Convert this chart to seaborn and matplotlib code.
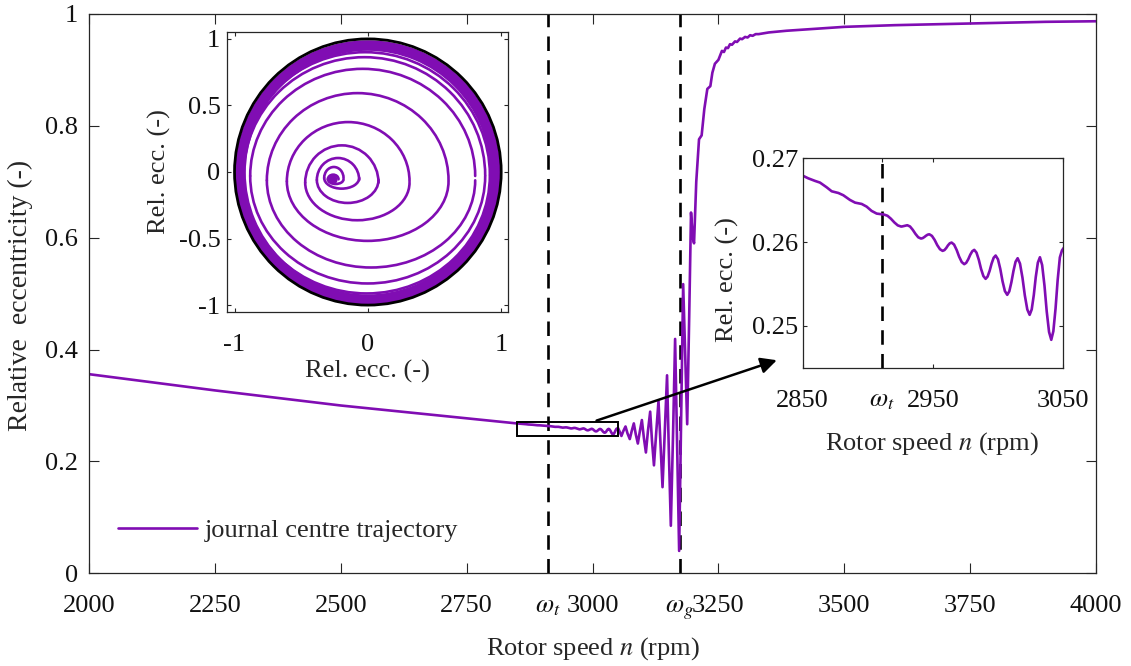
import matplotlib
matplotlib.use("Agg")
import matplotlib.pyplot as plt
import seaborn as sns
from matplotlib.patches import Arc, Ellipse, Circle, Wedge, Rectangle

# ---- run-up record: rotor speed (rpm) vs relative eccentricity ----
speed = [2000, 2250, 2500, 2750,
         2850.0, 2854.3, 2859.5, 2863.3, 2868.4, 2872.3, 2877.4, 2881.2, 2886.3, 2890.2,
         2895.3, 2899.1, 2902.9, 2906.8, 2912.5,
         2915.1, 2917.7, 2920.4, 2923.0, 2925.6,
         2926.5, 2927.5, 2928.4, 2929.4, 2930.3,
         2932.4, 2934.5, 2936.6, 2938.7, 2940.8,
         2942.1, 2943.4, 2944.6, 2945.9, 2947.2,
         2949.2, 2951.3, 2953.3, 2955.4, 2957.4,
         2958.8, 2960.2, 2961.5, 2962.9, 2964.3,
         2966.2, 2968.2, 2970.1, 2972.1, 2974.0,
         2975.5, 2977.1, 2978.6, 2980.2, 2981.7,
         2983.4, 2985.2, 2986.9, 2988.7, 2990.4,
         2991.9, 2993.5, 2995.0, 2996.6, 2998.1,
         2999.9, 3001.7, 3003.4, 3005.2, 3007.0,
         3008.6, 3010.2, 3011.8, 3013.4, 3015.0,
         3016.8, 3018.7, 3020.5, 3022.4, 3024.2,
         3025.8, 3027.4, 3028.9, 3030.5, 3032.1,
         3033.8, 3035.6, 3037.3, 3039.1, 3040.8,
         3042.4, 3044.1, 3045.7, 3047.4, 3049.0,
         3050.8, 3054.0, 3057.4, 3061.0, 3065.5, 3069.5, 3074.0, 3078.0, 3082.0, 3086.0,
         3090.0, 3094.0, 3098.0, 3102.0, 3106.0, 3110.0, 3114.5, 3118.0, 3122.0, 3126.5,
         3131.0, 3135.0, 3139.0, 3143.5, 3148.0, 3151.5, 3155.5, 3160.0, 3164.0, 3168.0,
         3172.0, 3176.0, 3180.0, 3184.0, 3188.0, 3192.0, 3195.6, 3199.0, 3201.6, 3206.0,
         3211.5, 3216.7, 3222.0, 3228.0, 3234.0, 3238.0, 3243.0, 3250.0, 3257.0, 3261.0,
         3265.0, 3269.0, 3273.0, 3277.0, 3283.0, 3287.0, 3293.0, 3297.0, 3303.0, 3308.0,
         3313.0, 3318.0, 3324.0, 3330.0, 3350.0, 3385.0, 3452.0, 3500.0, 3600.0, 3750.0,
         3900.0, 4000.0]
ecc = [0.356, 0.327, 0.300, 0.277,
       0.26793, 0.26761, 0.26730, 0.26710, 0.26654, 0.26606, 0.26586, 0.26559, 0.26503, 0.26471,
       0.26455, 0.26423, 0.26372, 0.26340, 0.26328,
       0.26314, 0.26279, 0.26234, 0.26199, 0.26185,
       0.26187, 0.26191, 0.26195, 0.26199, 0.26201,
       0.26186, 0.26146, 0.26097, 0.26057, 0.26042,
       0.26047, 0.26060, 0.26075, 0.26088, 0.26093,
       0.26074, 0.26025, 0.25963, 0.25914, 0.25895,
       0.25904, 0.25929, 0.25960, 0.25985, 0.25994,
       0.25970, 0.25905, 0.25825, 0.25761, 0.25736,
       0.25752, 0.25795, 0.25848, 0.25891, 0.25907,
       0.25874, 0.25788, 0.25680, 0.25594, 0.25561,
       0.25587, 0.25657, 0.25743, 0.25813, 0.25839,
       0.25794, 0.25677, 0.25532, 0.25415, 0.25370,
       0.25412, 0.25521, 0.25656, 0.25765, 0.25807,
       0.25743, 0.25574, 0.25364, 0.25195, 0.25131,
       0.25196, 0.25368, 0.25582, 0.25754, 0.25819,
       0.25725, 0.25479, 0.25173, 0.24927, 0.24833,
       0.24936, 0.25208, 0.25545, 0.25817, 0.25900,
       0.2594, 0.2530, 0.2455, 0.2540, 0.2625, 0.2500, 0.2400, 0.2550, 0.2680, 0.2480,
       0.2320, 0.2540, 0.2740, 0.2420, 0.2160, 0.2540, 0.2890, 0.2380, 0.1930, 0.2520,
       0.3080, 0.2300, 0.1540, 0.2560, 0.3540, 0.2200, 0.0850, 0.2520, 0.4190, 0.2300,
       0.0400, 0.2800, 0.5170, 0.3900, 0.2665, 0.4600, 0.6450, 0.6000, 0.5900, 0.7000,
       0.7760, 0.7830, 0.8300, 0.8660, 0.8710, 0.8950, 0.9110, 0.9180, 0.9340, 0.9320,
       0.9400, 0.9390, 0.9460, 0.9450, 0.9510, 0.9500, 0.9560, 0.9550, 0.9590, 0.9580,
       0.9620, 0.9610, 0.9640, 0.9640, 0.9670, 0.9700, 0.9740, 0.9770, 0.9800, 0.9830,
       0.9860, 0.9870]

# threshold / instability speeds (rpm)
omega_t = 2911
omega_g = 3173

main_xticks = [2000, 2250, 2500, 2750, 3000, 3250, 3500, 3750, 4000]
main_yticks = [0, 0.2, 0.4, 0.6, 0.8, 1]
main_ytick_labels = ["0", "0.2", "0.4", "0.6", "0.8", "1"]

zoom_xlim = (2850, 3050)
zoom_ylim = (0.245, 0.27)
zoom_xticks = [2850, 2950, 3050]
zoom_yticks = [0.25, 0.26, 0.27]
zoom_ytick_labels = ["0.25", "0.26", "0.27"]

# ---- journal orbit (x, y relative eccentricity), one entry per turn ----
orbit_left = [-0.300, -0.3275, -0.3825, -0.470, -0.6075, -0.7575, -0.8825, -0.9325, -0.955]
orbit_right = [-0.220, -0.1825, -0.065, 0.080, 0.3125, 0.605, 0.805, 0.880, 0.915, 0.930]
orbit_top = [-0.020, 0.0375, 0.105, 0.200, 0.375, 0.5925, 0.775, 0.8625, 0.900]
orbit_bottom = [-0.090, -0.125, -0.2325, -0.3625, -0.5175, -0.7175, -0.8375, -0.9125, -0.935]
orbit_mid = [-0.055, -0.045, -0.060, -0.080, -0.070, -0.0625, -0.030, -0.025, -0.020]
orbit_start = (-0.262, -0.058)   # tightly wound start of the orbit
orbit_limit_inner = 0.915        # dense limit-cycle band
orbit_limit_outer = 0.995
orbit_ticks_x = [-1, 0, 1]
orbit_ticks_y = [-1, -0.5, 0, 0.5, 1]

# ---- styling ----
sns.set_style("ticks")
plt.rcParams["font.family"] = ["Liberation Serif", "DejaVu Serif"]
plt.rcParams["mathtext.fontset"] = "stix"
plt.rcParams["axes.unicode_minus"] = False

PURPLE = "#800db3"
EDGE = "#262626"
FS = 19
LW = 1.9

fig = plt.figure(figsize=(11.31, 6.66), dpi=100)
fig.patch.set_facecolor("white")


def frame(ax, length, pad_x, pad_y):
    for s in ax.spines.values():
        s.set_color(EDGE)
        s.set_linewidth(0.9)
    ax.tick_params(direction="in", top=True, right=True, length=length, width=0.8,
                   color=EDGE, labelsize=FS, labelcolor="#111111")
    ax.tick_params(axis="x", pad=pad_x)
    ax.tick_params(axis="y", pad=pad_y)
    for t in ax.xaxis.get_major_ticks():
        t.label1.set_verticalalignment("baseline")


# ---- main axes ----
ax = fig.add_axes([0.0787, 0.1392, 0.8904, 0.8398])
sns.lineplot(x=speed, y=ecc, ax=ax, color=PURPLE, lw=LW, sort=False, estimator=None,
             label="journal centre trajectory")
ax.lines[0].set_solid_joinstyle("round")
for w in (omega_t, omega_g):
    ax.axvline(w, color="black", lw=1.9, dashes=(5.5, 3.5), zorder=1)
ax.set_xlim(2000, 4000)
ax.set_ylim(0, 1)
ticks = main_xticks + [omega_t, omega_g]
ax.set_xticks(ticks)
ax.set_xticklabels([str(v) for v in main_xticks] + [r"$\omega_t$", r"$\omega_g$"])
ax.set_yticks(main_yticks)
ax.set_yticklabels(main_ytick_labels)
frame(ax, 7, 28, 8)
ax.set_xlabel(r"Rotor speed $n$ (rpm)", fontsize=FS)
ax.set_ylabel("Relative  eccentricity (-)", fontsize=20)
ax.xaxis.set_label_coords(0.5, -0.111)
ax.yaxis.set_label_coords(-0.056, 0.497)
ax.add_patch(Rectangle((zoom_xlim[0], zoom_ylim[0]), zoom_xlim[1] - zoom_xlim[0],
                       zoom_ylim[1] - zoom_ylim[0], fill=False, ec="black", lw=1.4, zorder=3))
ax.annotate("", xy=(3366, 0.381), xytext=(3008, 0.273),
            arrowprops=dict(arrowstyle="-|>", color="black", lw=1.8, mutation_scale=24,
                            shrinkA=0, shrinkB=0))
leg = ax.legend(loc="center left", bbox_to_anchor=(0.0288, 0.0774), frameon=False,
                fontsize=FS, handlelength=3.0, handletextpad=0.3, borderpad=0,
                borderaxespad=0)

# ---- zoom inset ----
axz = fig.add_axes([0.7097, 0.4479, 0.2304, 0.3144])
sns.lineplot(x=speed, y=ecc, ax=axz, color=PURPLE, lw=LW, sort=False, estimator=None,
             legend=False)
axz.lines[0].set_solid_joinstyle("round")
axz.axvline(omega_t, color="black", lw=1.9, dashes=(5.5, 3.5), zorder=1)
axz.set_xlim(*zoom_xlim)
axz.set_ylim(*zoom_ylim)
axz.set_xticks(zoom_xticks + [omega_t])
axz.set_xticklabels([str(v) for v in zoom_xticks] + [r"$\omega_t$"])
axz.set_yticks(zoom_yticks)
axz.set_yticklabels(zoom_ytick_labels)
frame(axz, 3, 28, 3)
axz.set_xlabel(r"Rotor speed $n$ (rpm)", fontsize=FS)
axz.set_ylabel("Rel. ecc. (-)", fontsize=FS)
axz.xaxis.set_label_coords(0.495, -0.30)
axz.yaxis.set_label_coords(-0.245, 0.42)

# ---- orbit inset ----
axo = fig.add_axes([0.2010, 0.5311, 0.2485, 0.4213])
axo.add_patch(Wedge((0, -0.005), orbit_limit_outer, 0, 360,
                    width=orbit_limit_outer - orbit_limit_inner, color=PURPLE, lw=0))
for k in range(len(orbit_left)):
    L, R, T, B, c = orbit_left[k], orbit_right[k], orbit_top[k], orbit_bottom[k], orbit_mid[k]
    Rn = orbit_right[k + 1]
    for arc in (Arc(((L + R) / 2, c), R - L, 2 * (T - c), theta1=0, theta2=180,
                    color=PURPLE, lw=LW),
                Arc(((L + Rn) / 2, c), Rn - L, 2 * (c - B), theta1=180, theta2=360,
                    color=PURPLE, lw=LW)):
        arc.set_capstyle("round")
        axo.add_patch(arc)
axo.add_patch(Ellipse(orbit_start, 0.07, 0.07, color=PURPLE, lw=0))
axo.add_patch(Circle((0, 0), 1, fill=False, ec="black", lw=2.0))
axo.set_xlim(-1.054, 1.054)
axo.set_ylim(-1.054, 1.054)
axo.set_xticks(orbit_ticks_x)
axo.set_xticklabels(["-1", "0", "1"])
axo.set_yticks(orbit_ticks_y)
axo.set_yticklabels(["-1", "-0.5", "0", "0.5", "1"])
frame(axo, 3, 28, 5)
axo.set_xlabel("Rel. ecc. (-)", fontsize=FS)
axo.set_ylabel("Rel. ecc. (-)", fontsize=FS)
axo.xaxis.set_label_coords(0.5, -0.17)
axo.yaxis.set_label_coords(-0.20, 0.5)
axo.set_facecolor("white")

fig.savefig("out.png", dpi=100, facecolor="white")
